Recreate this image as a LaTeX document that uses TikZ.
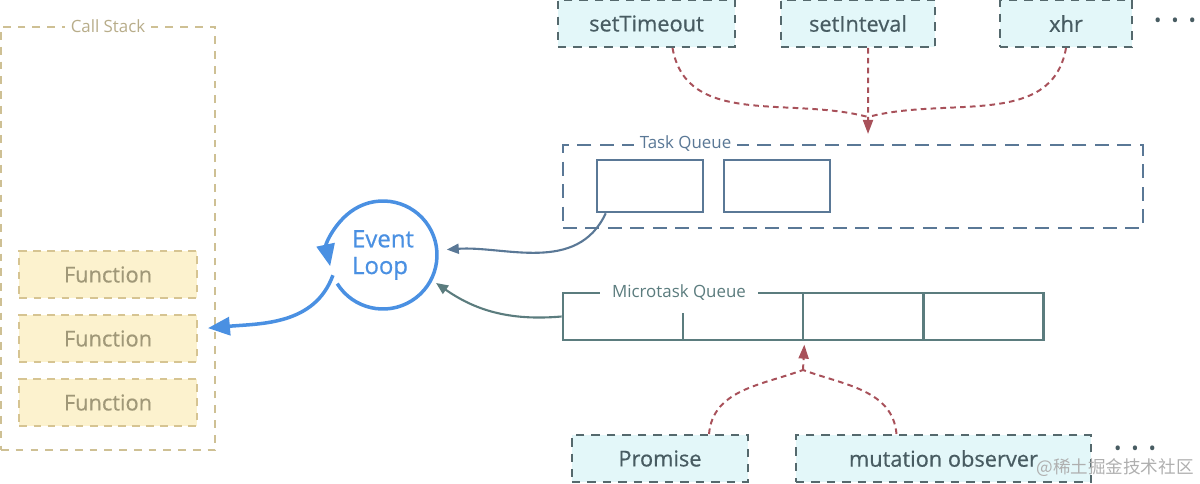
\documentclass[tikz,border=0pt]{standalone}
\usepackage{fontspec}
\setmainfont{Open Sans}
\newfontfamily\boxfont{Open Sans}[FakeBold=0.6]
\newfontfamily\cjkfont{Noto Sans CJK SC}
\usetikzlibrary{arrows.meta,positioning}

\definecolor{stackline}{RGB}{206,192,148}
\definecolor{stacktext}{RGB}{184,173,138}
\definecolor{funcfill}{RGB}{252,242,206}
\definecolor{funcline}{RGB}{214,196,146}
\definecolor{functext}{RGB}{160,152,120}
\definecolor{apifill}{RGB}{227,247,249}
\definecolor{apiline}{RGB}{85,105,109}
\definecolor{apitext}{RGB}{72,92,98}
\definecolor{feedred}{RGB}{168,81,90}
\definecolor{taskline}{RGB}{90,120,150}
\definecolor{microline}{RGB}{91,124,126}
\definecolor{loopblue}{RGB}{74,144,226}
\definecolor{wmgray}{RGB}{175,175,175}

\begin{document}
\begin{tikzpicture}[x=0.025cm,y=0.025cm,node distance=1.6cm,on grid,
   funcbox/.style={draw=funcline,fill=funcfill,text=functext,line width=1.4pt,
      dash pattern=on 5.5pt off 4.5pt,minimum width=4.425cm,minimum height=1.175cm,
      font=\boxfont\fontsize{15.5}{18}\selectfont},
   apibox/.style={draw=apiline,fill=apifill,text=apitext,line width=1.4pt,
      dash pattern=on 6pt off 5pt,minimum height=1.175cm,
      font=\boxfont\fontsize{15.5}{18}\selectfont},
   tag/.style={fill=white,inner xsep=4pt,font=\fontsize{12}{14}\selectfont},
   cell/.style={draw=taskline,line width=1.8pt,minimum width=2.65cm,minimum height=1.3cm},
   mcell/.style={draw=microline,line width=2pt,minimum width=3cm,minimum height=1.175cm},
   feed/.style={draw=feedred,line width=1.4pt,dash pattern=on 4pt off 3pt},
   feedtip/.style={-{Triangle[length=0.35cm,width=0.25cm]}},
   pull/.style={draw=#1,line width=1.5pt,-{Triangle[length=0.3cm,width=0.25cm]}},
   spin/.style={draw=loopblue,line width=2.5pt,-{Triangle[length=0.55cm,width=0.45cm]}},
   more/.style={text=apitext,font=\fontsize{14}{16}\selectfont}]
   \useasboundingbox (0,0) rectangle (1200,-484);

   % call stack
   \node[draw=stackline,line width=1.4pt,dash pattern=on 5.5pt off 5pt,
      minimum width=5.35cm,minimum height=10.575cm] (stack) at (108,-238.5) {};
   \node[tag,text=stacktext] at (stack.north) {Call Stack};
   \node[funcbox] (f1) at (108,-274.5) {Function};
   \node[funcbox] (f2) [below=of f1] {Function};
   \node[funcbox] (f3) [below=of f2] {Function};

   % event loop
   \node[circle,minimum size=2.7cm,inner sep=0pt,outer sep=0pt,text=loopblue,
      align=left,font=\boxfont\fontsize{17}{19}\selectfont] (loop) at (383,-255) {Event\\Loop};
   \draw[spin] (loop.212) arc[start angle=212,end angle=552,radius=54];
   \draw[spin] (loop.202) to[out=250,in=5] ([xshift=0.26cm,yshift=0.26cm]f2.east);

   % web apis
   \node[apibox,minimum width=4.425cm] (st) at (646.5,-23.5) {setTimeout};
   \node[apibox,minimum width=3.85cm] (si) at (858,-23.5) {setInteval};
   \node[apibox,minimum width=3.3cm] (xh) at (1066,-23.5) {xhr};
   \node[more] (dots1) at (1175,-23) {•\enspace•\enspace•};

   % task queue
   \node[draw=taskline,line width=1.5pt,dash pattern=on 10pt off 6pt,
      minimum width=14.5cm,minimum height=2.075cm] (tq) at (853,-186.5) {};
   \node[tag,text=taskline,anchor=west] at ([xshift=1.8cm]tq.north west) {Task Queue};
   \node[cell] (t1) at (650,-186) {};
   \node[cell] (t2) [right=3.175cm of t1] {};

   \coordinate (tj) at (868,-117);
   \draw[feed] ([xshift=0.65cm]st.south) to[out=-80,in=165] (tj);
   \draw[feed] (xh.south) to[out=-100,in=15] (tj);
   \draw[feed,feedtip,shorten >=0.25cm] ([xshift=0.25cm]si.south) -- ([xshift=0.375cm]tq.north);

   % microtask queue
   \node[mcell] (m1) at (623,-316.5) {};
   \foreach \i [count=\j from 2] in {1,2,3}
      \node[mcell] (m\j) [right=3cm of m\i] {};
   \node[tag,text=microline,inner xsep=8.5pt,inner ysep=9pt] at (679,-293) {Microtask Queue};

   \node[apibox,minimum width=4.4cm] (pr) at (660,-458.5) {Promise};
   \node[apibox,minimum width=7.375cm] (mo) at (943.5,-458.5) {mutation observer};
   \node[more] (dots2) at (1135,-451) {•\enspace•\enspace•};

   \coordinate (mj) at (803,-370);
   \draw[feed] ([xshift=1.225cm]pr.north) to[out=85,in=200] (mj);
   \draw[feed] ([xshift=-1.175cm]mo.north) to[out=95,in=-20] (mj);
   \draw[feed,feedtip,shorten >=0.08cm] (mj) -- (m2.south east);

   % into the loop
   \draw[pull=taskline,shorten >=0.25cm] ([xshift=0.25cm]t1.south west) to[out=245,in=4] (loop.5);
   \draw[pull=microline,shorten >=0.15cm] (m1.west) to[out=185,in=-35] (loop.-27);

   \node[text=wmgray,font=\cjkfont\fontsize{12.5}{14}\selectfont] (mark) at (1115,-468) {@稀土掘金技术社区};
\end{tikzpicture}
\end{document}
